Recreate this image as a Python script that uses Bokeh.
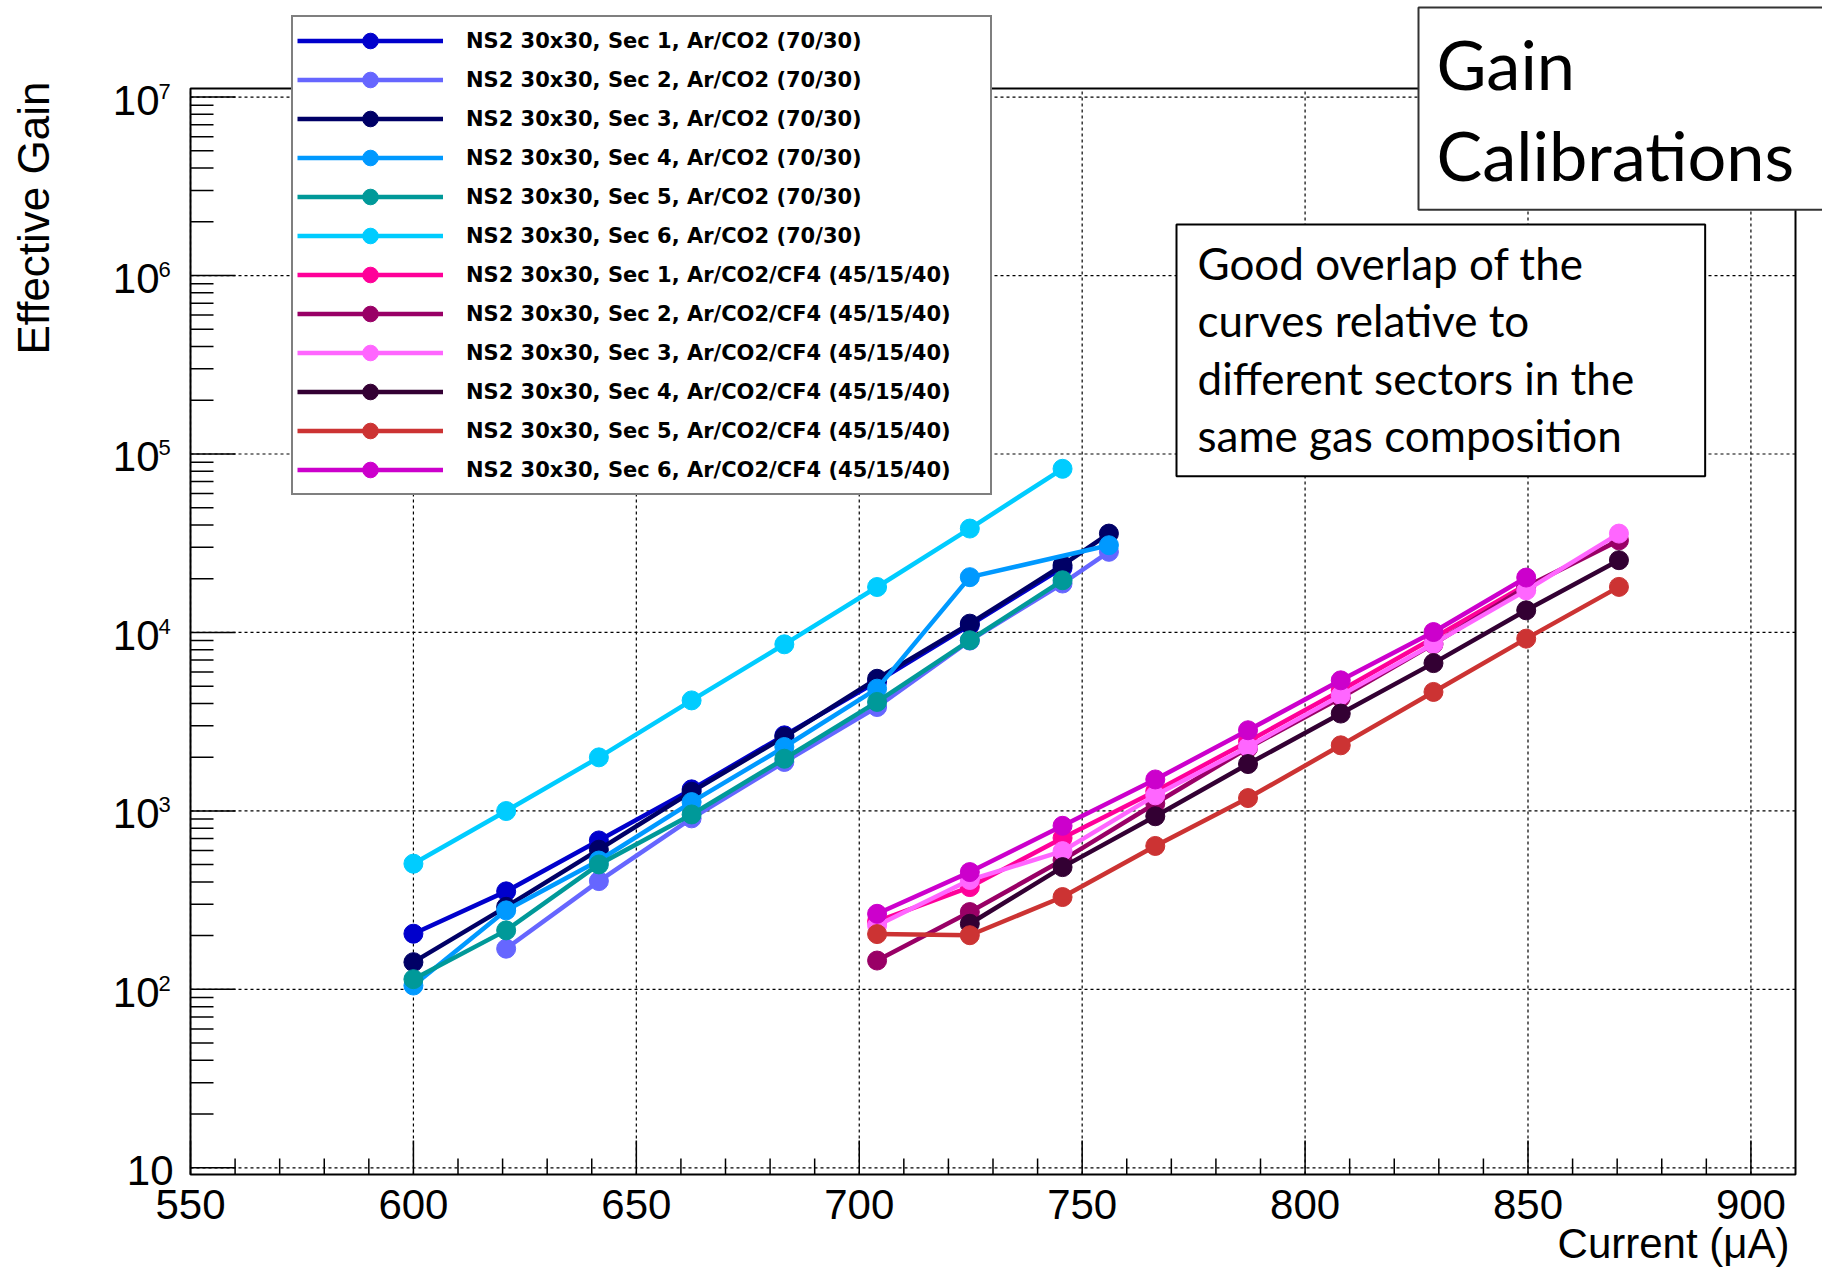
import math
from bokeh.plotting import figure
from bokeh.models import Range1d, Label, Legend, LegendItem
from bokeh.core.properties import value
from bokeh.embed import file_html
from bokeh.resources import INLINE

# ---------------- data ----------------
labels = [
    "NS2 30x30, Sec 1, Ar/CO2 (70/30)",
    "NS2 30x30, Sec 2, Ar/CO2 (70/30)",
    "NS2 30x30, Sec 3, Ar/CO2 (70/30)",
    "NS2 30x30, Sec 4, Ar/CO2 (70/30)",
    "NS2 30x30, Sec 5, Ar/CO2 (70/30)",
    "NS2 30x30, Sec 6, Ar/CO2 (70/30)",
    "NS2 30x30, Sec 1, Ar/CO2/CF4 (45/15/40)",
    "NS2 30x30, Sec 2, Ar/CO2/CF4 (45/15/40)",
    "NS2 30x30, Sec 3, Ar/CO2/CF4 (45/15/40)",
    "NS2 30x30, Sec 4, Ar/CO2/CF4 (45/15/40)",
    "NS2 30x30, Sec 5, Ar/CO2/CF4 (45/15/40)",
    "NS2 30x30, Sec 6, Ar/CO2/CF4 (45/15/40)",
]
colors = ["#0000cc", "#6666ff", "#000066", "#0099ff", "#009999", "#00ccff",
          "#ff0099", "#990066", "#ff66ff", "#330033", "#cc3333", "#cc00cc"]

ar_sec1_current = [600.0, 620.8, 641.6, 662.4, 683.2, 704.0, 724.8, 745.6]
ar_sec1_gain = [205, 354, 683, 1320, 2650, 5300, 11000, 23000]
ar_sec2_current = [620.8, 641.6, 662.4, 683.2, 704.0, 724.8, 745.6, 756.0]
ar_sec2_gain = [169, 404, 908, 1880, 3820, 9000, 18800, 28300]
ar_sec3_current = [600.0, 620.8, 641.6, 662.4, 683.2, 704.0, 724.8, 745.6, 756.0]
ar_sec3_gain = [142, 290, 606, 1280, 2600, 5500, 11200, 23800, 35800]
ar_sec4_current = [600.0, 620.8, 641.6, 662.4, 683.2, 704.0, 724.8, 756.0]
ar_sec4_gain = [105, 277, 527, 1120, 2280, 4840, 20400, 30800]
ar_sec5_current = [600.0, 620.8, 641.6, 662.4, 683.2, 704.0, 724.8, 745.6]
ar_sec5_gain = [114, 214, 501, 955, 1960, 4080, 9040, 19600]
ar_sec6_current = [600.0, 620.8, 641.6, 662.4, 683.2, 704.0, 724.8, 745.6]
ar_sec6_gain = [506, 998, 1995, 4160, 8580, 17970, 38200, 82600]

cf_sec1_current = [704.0, 724.8, 745.6, 766.4, 787.2, 808.0, 828.8, 849.6]
cf_sec1_gain = [240, 374, 705, 1290, 2450, 4730, 9300, 18500]
cf_sec2_current = [704.0, 724.8, 745.6, 766.4, 787.2, 808.0, 828.8, 849.6, 870.4]
cf_sec2_gain = [145, 271, 530, 1100, 2250, 4300, 8600, 18000, 32800]
cf_sec3_current = [704.0, 724.8, 745.6, 766.4, 787.2, 808.0, 828.8, 849.6, 870.4]
cf_sec3_gain = [228, 410, 595, 1222, 2280, 4440, 8650, 17200, 35800]
cf_sec4_current = [724.8, 745.6, 766.4, 787.2, 808.0, 828.8, 849.6, 870.4]
cf_sec4_gain = [233, 484, 933, 1830, 3510, 6730, 13300, 25400]
cf_sec5_current = [704.0, 724.8, 745.6, 766.4, 787.2, 808.0, 828.8, 849.6, 870.4]
cf_sec5_gain = [204, 201, 329, 636, 1180, 2330, 4640, 9230, 18000]
cf_sec6_current = [704.0, 724.8, 745.6, 766.4, 787.2, 808.0, 828.8, 849.6]
cf_sec6_gain = [265, 454, 825, 1500, 2830, 5390, 10050, 20300]

x_ticks = [550, 600, 650, 700, 750, 800, 850, 900]
x_tick_labels = ["550", "600", "650", "700", "750", "800", "850", "900"]
y_tick_values = [10, 100, 1000, 10000, 100000, 1000000, 10000000]
y_tick_exponents = ["", "2", "3", "4", "5", "6", "7"]

x_title = "Current (μA)"
y_title = "Effective Gain"
title_text = "Gain\nCalibrations"
note_text = ("Good overlap of the\ncurves relative to\n"
             "different sectors in the\nsame gas composition")

currents = [ar_sec1_current, ar_sec2_current, ar_sec3_current, ar_sec4_current,
            ar_sec5_current, ar_sec6_current, cf_sec1_current, cf_sec2_current,
            cf_sec3_current, cf_sec4_current, cf_sec5_current, cf_sec6_current]
gains = [ar_sec1_gain, ar_sec2_gain, ar_sec3_gain, ar_sec4_gain, ar_sec5_gain,
         ar_sec6_gain, cf_sec1_gain, cf_sec2_gain, cf_sec3_gain, cf_sec4_gain,
         cf_sec5_gain, cf_sec6_gain]

# ---------------- layout: plot box inside a full-canvas frame ----------------
W, H = 1822, 1269
FL, FR, FT, FB = 190, 1795, 88, 1174          # plot box in canvas pixels
X0, X1 = 550.0, 910.0                          # axis limits
Y0, Y1 = 9.17, 1.117e7
ux = (X1 - X0) / (FR - FL)
LY0, LY1 = math.log10(Y0), math.log10(Y1)
uy = (LY1 - LY0) / (FB - FT)
x_start, x_end = X0 - FL * ux, X1 + (W - FR) * ux
y_start, y_end = 10 ** (LY0 - (H - FB) * uy), 10 ** (LY1 + FT * uy)

p = figure(width=W, height=H, title=None,
           x_range=Range1d(x_start, x_end), y_range=Range1d(y_start, y_end),
           y_axis_type="log", x_axis_location=None, y_axis_location=None,
           output_backend="svg", toolbar_location=None, min_border=0)
p.background_fill_color = "white"
p.border_fill_color = "white"
p.outline_line_color = None
p.xgrid.visible = False
p.ygrid.visible = False

# grid (dotted) at major ticks
p.segment(x0=x_ticks, x1=x_ticks, y0=[Y0] * len(x_ticks), y1=[Y1] * len(x_ticks),
          line_color="black", line_width=1.2, line_dash="3 3")
p.segment(x0=[X0] * len(y_tick_values), x1=[X1] * len(y_tick_values),
          y0=y_tick_values, y1=y_tick_values,
          line_color="black", line_width=1.2, line_dash="3 3")

# frame
p.quad(left=[X0], right=[X1], bottom=[Y0], top=[Y1], fill_color=None,
       line_color="black", line_width=2)

# x ticks (inside, upward)
x_minor = [v for v in range(560, 910, 10) if v % 50 != 0]
p.segment(x0=x_ticks, x1=x_ticks, y0=[Y0] * len(x_ticks),
          y1=[Y0 * 10 ** (34 * uy)] * len(x_ticks), line_color="black", line_width=1.5)
p.segment(x0=x_minor, x1=x_minor, y0=[Y0] * len(x_minor),
          y1=[Y0 * 10 ** (16 * uy)] * len(x_minor), line_color="black", line_width=1.5)

# y ticks (inside, rightward)
y_minor = [m * 10 ** k for k in range(1, 7) for m in range(2, 10)]
p.segment(x0=[X0] * len(y_tick_values), x1=[X0 + 45 * ux] * len(y_tick_values),
          y0=y_tick_values, y1=y_tick_values, line_color="black", line_width=1.5)
p.segment(x0=[X0] * len(y_minor), x1=[X0 + 23 * ux] * len(y_minor),
          y0=y_minor, y1=y_minor, line_color="black", line_width=1.5)

# x tick labels
p.text(x=x_ticks, y=[Y0] * len(x_ticks), text=x_tick_labels, y_offset=30,
       text_align="center", text_baseline="alphabetic",
       text_font=value("Liberation Sans"), text_font_size="42px", text_color="black")

# y tick labels: "10" with superscript exponent
sup_vals = [v for v, e in zip(y_tick_values, y_tick_exponents) if e]
sup_text = [e for e in y_tick_exponents if e]
plain_vals = [v for v, e in zip(y_tick_values, y_tick_exponents) if not e]
p.text(x=[X0] * len(sup_vals), y=sup_vals, text=["10"] * len(sup_vals),
       x_offset=-31, y_offset=3, text_align="right", text_baseline="alphabetic",
       text_font=value("Liberation Sans"), text_font_size="42px", text_color="black")
p.text(x=[X0] * len(sup_vals), y=sup_vals, text=sup_text,
       x_offset=-32, y_offset=-6, text_align="left", text_baseline="alphabetic",
       text_font=value("Liberation Sans"), text_font_size="22px", text_color="black")
p.text(x=[X0] * len(plain_vals), y=plain_vals, text=["10"] * len(plain_vals),
       x_offset=-17, y_offset=3, text_align="right", text_baseline="alphabetic",
       text_font=value("Liberation Sans"), text_font_size="42px", text_color="black")

# axis titles
p.text(x=[X1], y=[Y0], text=[x_title], x_offset=-6, y_offset=69,
       text_align="right", text_baseline="alphabetic",
       text_font=value("Liberation Sans"), text_font_size="42px", text_color="black")
p.text(x=[X0], y=[Y1], text=[y_title], x_offset=-157, y_offset=-7,
       angle=math.pi / 2, text_align="right", text_baseline="alphabetic",
       text_font=value("Liberation Sans"), text_font_size="44px", text_color="black")

# series
items = []
for xs, ys, col, lab in zip(currents, gains, colors, labels):
    r_line = p.line(xs, ys, line_color=col, line_width=4.5)
    r_pts = p.scatter(xs, ys, marker="circle", size=19,
                      fill_color=col, line_color=col)
    items.append(LegendItem(label=lab, renderers=[r_line, r_pts]))

legend = Legend(items=items, location=(291, H - 495), orientation="vertical",
                glyph_width=146, glyph_height=39, label_height=39, spacing=0,
                padding=4, margin=0, label_standoff=23, label_width=520,
                label_text_font="DejaVu Sans", label_text_font_style="bold",
                label_text_font_size="21px", label_text_color="black",
                label_text_baseline="middle",
                border_line_color="black", border_line_width=2,
                background_fill_color="white", background_fill_alpha=1.0)
p.add_layout(legend)

# title box and note box
p.add_layout(Label(x=X1, y=Y1, x_offset=1418 - FR, y_offset=FT - 7, text=title_text,
                   text_align="left", text_baseline="top",
                   text_font="Lato", text_font_size="68.5px", text_line_height=1.10,
                   text_color="black",
                   border_line_color="#333333", border_line_width=2,
                   background_fill_color="white", background_fill_alpha=1.0,
                   padding=dict(left=18, right=32, top=14, bottom=14)))
p.add_layout(Label(x=X1, y=Y1, x_offset=1176 - FR, y_offset=FT - 224, text=note_text,
                   text_align="left", text_baseline="top",
                   text_font="Lato", text_font_size="44px", text_line_height=1.107,
                   text_color="black",
                   border_line_color="black", border_line_width=2,
                   background_fill_color="white", background_fill_alpha=1.0,
                   padding=dict(left=21, right=71, top=12, bottom=15)))

open("out.html", "w").write(file_html(p, INLINE))
